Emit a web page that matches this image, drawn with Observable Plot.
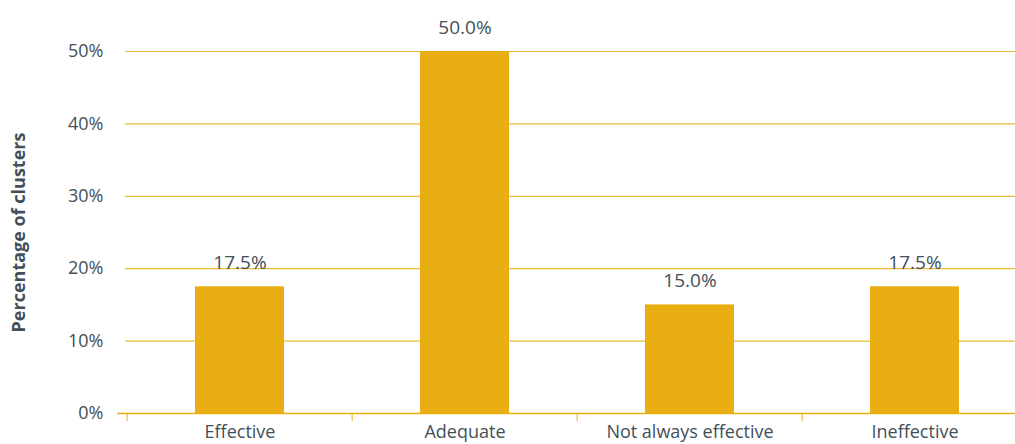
<!DOCTYPE html>
<html><head><meta charset="utf-8">
<script src="https://cdn.jsdelivr.net/npm/d3@7"></script>
<script src="https://cdn.jsdelivr.net/npm/@observablehq/plot@0.6"></script>
<style>
html,body{margin:0;padding:0;background:#fff;overflow:hidden;}
svg{overflow:visible;}
</style>
</head><body><div id="chart"></div>
<script>
const categories = ["Effective", "Adequate", "Not always effective", "Ineffective"];
const values = [17.5, 50.0, 15.0, 17.5];
const yTicks = [0, 10, 20, 30, 40, 50];
const gridTicks = [10, 20, 30, 40, 50];

const data = categories.map((c, i) => ({category: c, value: values[i]}));
const gold = "#e9ae12";
const textColor = "#424f59";
const font = "Open Sans, sans-serif";
const step = (1015 + 13 - 125) / categories.length;

const chart = Plot.plot({
  width: 1015,
  height: 444,
  marginLeft: 125,
  marginRight: -13,
  marginTop: 51,
  marginBottom: 31,
  style: {fontFamily: font, fontSize: "18px", color: textColor, background: "transparent"},
  x: {domain: categories, paddingInner: 0.606, paddingOuter: 0.303},
  y: {domain: [0, 50]},
  marks: [
    Plot.ruleY(gridTicks, {stroke: gold, strokeWidth: 1.2, strokeOpacity: 0.85}),
    Plot.barY(data, {x: "category", y: "value", fill: gold}),
    Plot.ruleY([0], {stroke: gold, strokeWidth: 1.5, insetLeft: -8}),
    Plot.axisX({tickSize: 8, stroke: gold, tickFormat: () => "", dx: -step / 2, label: null}),
    Plot.axisX({tickSize: 0, tickPadding: 12, fill: textColor, fontSize: 18, label: null}),
    Plot.axisY({ticks: yTicks, tickSize: 0, tickPadding: 22, tickFormat: d => d + "%", fill: textColor, fontSize: 18,
      label: "Percentage of clusters", labelAnchor: "center", labelArrow: "none", labelOffset: 113}),
    Plot.text(data, {x: "category", y: "value", text: d => d.value.toFixed(1) + "%", dy: -24, fill: textColor, fontSize: 19})
  ]
});
document.getElementById("chart").append(chart);
chart.querySelectorAll("g[aria-label='y-axis label'] text").forEach(t => { t.setAttribute("font-weight", "bold"); t.setAttribute("font-size", "18"); });
</script>
</body></html>
